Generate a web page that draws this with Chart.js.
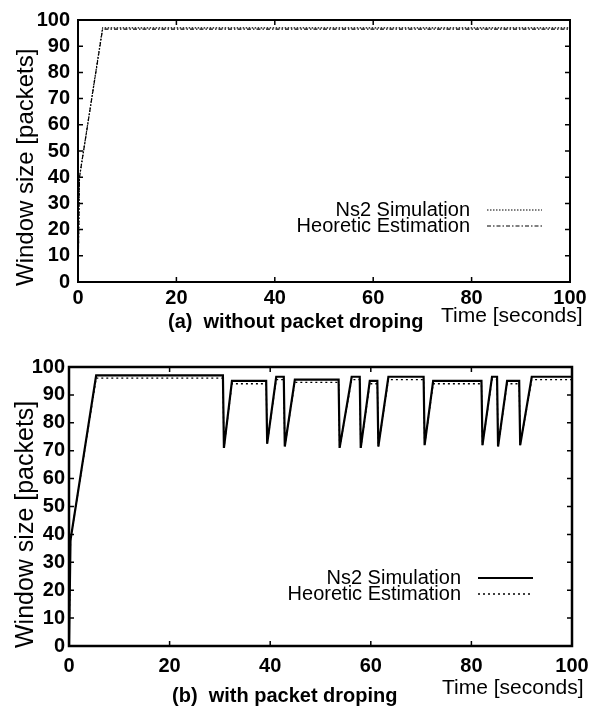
<!DOCTYPE html>
<html>
<head>
<meta charset="utf-8">
<script src="https://cdn.jsdelivr.net/npm/chart.js@4.4.1/dist/chart.umd.min.js"></script>
<style>
  body { margin: 0; background: #fff; width: 591px; height: 710px; position: relative; overflow: hidden; font-family: "Liberation Sans", Arial, sans-serif; }
  canvas { position: absolute; left: 0; }
  .txt { position: absolute; white-space: nowrap; color: #000; }
  .ytitle { transform-origin: left top; transform: rotate(-90deg); }
  .cap { font-size: 20px; font-weight: bold; }
  .xt { font-size: 21px; }
</style>
</head>
<body>
<canvas id="chartA" width="591" height="340" style="top:0"></canvas>
<canvas id="chartB" width="591" height="370" style="top:340px"></canvas>

<div class="txt ytitle" style="left:11px; top:286px; font-size:24px;">Window size [packets]</div>
<div class="txt cap" style="left:168px; top:310px;">(a)&nbsp; without packet droping</div>
<div class="txt xt" style="left:441px; top:303px;">Time [seconds]</div>

<div class="txt ytitle" style="left:10px; top:648px; font-size:25px;">Window size [packets]</div>
<div class="txt cap" style="left:172px; top:684px;">(b)&nbsp; with packet droping</div>
<div class="txt xt" style="left:442px; top:675px;">Time [seconds]</div>

<script>
// (a) without packet dropping
const timeA = [0, 0.3, 5.0, 100];
const ns2A  = [0, 40, 97, 97];
const estA  = [0, 40, 96.5, 96.5];

// (b) with packet dropping
const timeB = [0, 0.3, 5.4, 30.6, 30.8, 32.4, 39.2, 39.4, 41.2, 42.7, 42.9, 44.9,
               53.6, 53.8, 56.2, 57.8, 58.0, 59.8, 61.3, 61.5, 63.5, 70.5, 70.7, 72.4,
               82.0, 82.2, 84.1, 85.1, 85.3, 87.1, 89.5, 89.7, 92.0, 100];
const ns2B  = [0, 38, 97, 97, 71, 95, 95, 72.5, 96.5, 96.5, 71.5, 95.5,
               95.5, 71, 96.5, 96.5, 71, 95, 95, 71.5, 96.5, 96.5, 72, 95,
               95, 72, 96.5, 96.5, 71.5, 95, 95, 72, 96.5, 96.5];
const estB  = [0, 38, 96, 96, 71, 94, 94, 72.5, 95.5, 95.5, 71.5, 94.5,
               94.5, 71, 95.5, 95.5, 71, 94, 94, 71.5, 95.5, 95.5, 72, 94,
               94, 72, 95.5, 95.5, 71.5, 94, 94, 72, 95.5, 95.5];

const yTicks = [0, 10, 20, 30, 40, 50, 60, 70, 80, 90, 100];
const xTicks = [0, 20, 40, 60, 80, 100];
const seriesNames = ["Ns2 Simulation", "Heoretic Estimation"];

function pts(xs, ys) {
    return xs.map((x, i) => ({ x: x, y: ys[i] }));
}

// gnuplot style frame, inner ticks and legend
const framePlugin = {
    id: "frame",
    afterDatasetsDraw(chart, args, opts) {
        const ctx = chart.ctx;
        const a = chart.chartArea;
        const xs = chart.scales.x, ys = chart.scales.y;
        ctx.save();
        ctx.strokeStyle = "#000";
        ctx.lineWidth = opts.frameWidth;
        ctx.strokeRect(a.left, a.top, a.right - a.left, a.bottom - a.top);
        ctx.lineWidth = 1.5;
        ctx.beginPath();
        yTicks.forEach(v => {
            const y = ys.getPixelForValue(v);
            ctx.moveTo(a.left, y); ctx.lineTo(a.left + 5, y);
            ctx.moveTo(a.right, y); ctx.lineTo(a.right - 5, y);
        });
        xTicks.forEach(v => {
            const x = xs.getPixelForValue(v);
            ctx.moveTo(x, a.bottom); ctx.lineTo(x, a.bottom - 5);
            ctx.moveTo(x, a.top); ctx.lineTo(x, a.top + 5);
        });
        ctx.stroke();

        // legend: text right aligned, then line sample
        ctx.font = "20px 'Liberation Sans', Arial, sans-serif";
        ctx.fillStyle = "#000";
        ctx.textAlign = "right";
        ctx.textBaseline = "middle";
        chart.data.datasets.forEach((ds, i) => {
            const y = opts.legendY + i * opts.legendGap;
            ctx.fillText(ds.label, opts.legendX, y);
            ctx.beginPath();
            ctx.lineWidth = ds.borderWidth;
            ctx.setLineDash(ds.borderDash || []);
            ctx.moveTo(opts.legendX + 17, y);
            ctx.lineTo(opts.legendX + 72, y);
            ctx.stroke();
        });
        ctx.restore();
    }
};

function makeChart(id, h, area, datasets, tickPadX, tickPadY, fw, legend) {
    const tickFont = { family: "'Liberation Sans', Arial, sans-serif", size: 20, weight: "bold" };
    return new Chart(document.getElementById(id), {
        type: "line",
        data: { datasets: datasets },
        options: {
            responsive: false,
            animation: false,
            layout: { padding: { top: area.top, right: 591 - area.right, left: 0, bottom: 0 } },
            elements: { point: { radius: 0 }, line: { tension: 0 } },
            plugins: {
                legend: { display: false },
                tooltip: { enabled: false },
                frame: Object.assign({ frameWidth: fw }, legend)
            },
            scales: {
                x: {
                    type: "linear", min: 0, max: 100,
                    grid: { display: false, drawTicks: false, tickLength: 0 }, border: { display: false },
                    afterFit: s => { s.height = h - area.bottom; s.paddingLeft = 0; s.paddingRight = 0; },
                    afterBuildTicks: s => { s.ticks = xTicks.map(v => ({ value: v })); },
                    ticks: { padding: tickPadX, color: "#000", maxRotation: 0, autoSkip: false, font: tickFont }
                },
                y: {
                    min: 0, max: 100,
                    grid: { display: false, drawTicks: false, tickLength: 0 }, border: { display: false },
                    afterFit: s => { s.width = area.left; },
                    afterBuildTicks: s => { s.ticks = yTicks.map(v => ({ value: v })); },
                    ticks: { padding: tickPadY, color: "#000", autoSkip: false, font: tickFont }
                }
            }
        },
        plugins: [framePlugin]
    });
}

makeChart("chartA", 340, { left: 78, top: 19, right: 570, bottom: 282 }, [
    { label: seriesNames[0], data: pts(timeA, ns2A), borderColor: "#000", borderWidth: 1.2, borderDash: [1.5, 1.5] },
    { label: seriesNames[1], data: pts(timeA, estA), borderColor: "#000", borderWidth: 1.2, borderDash: [4, 2, 1.5, 2] }
], 4, 8, 2, { legendX: 470, legendY: 210, legendGap: 16 });

makeChart("chartB", 370, { left: 69, top: 27, right: 572, bottom: 306 }, [
    { label: seriesNames[0], data: pts(timeB, ns2B), borderColor: "#000", borderWidth: 2.2 },
    { label: seriesNames[1], data: pts(timeB, estB), borderColor: "#000", borderWidth: 1.3, borderDash: [2, 3] }
], 8, 4, 2.5, { legendX: 461, legendY: 238, legendGap: 16 });
</script>
</body>
</html>
